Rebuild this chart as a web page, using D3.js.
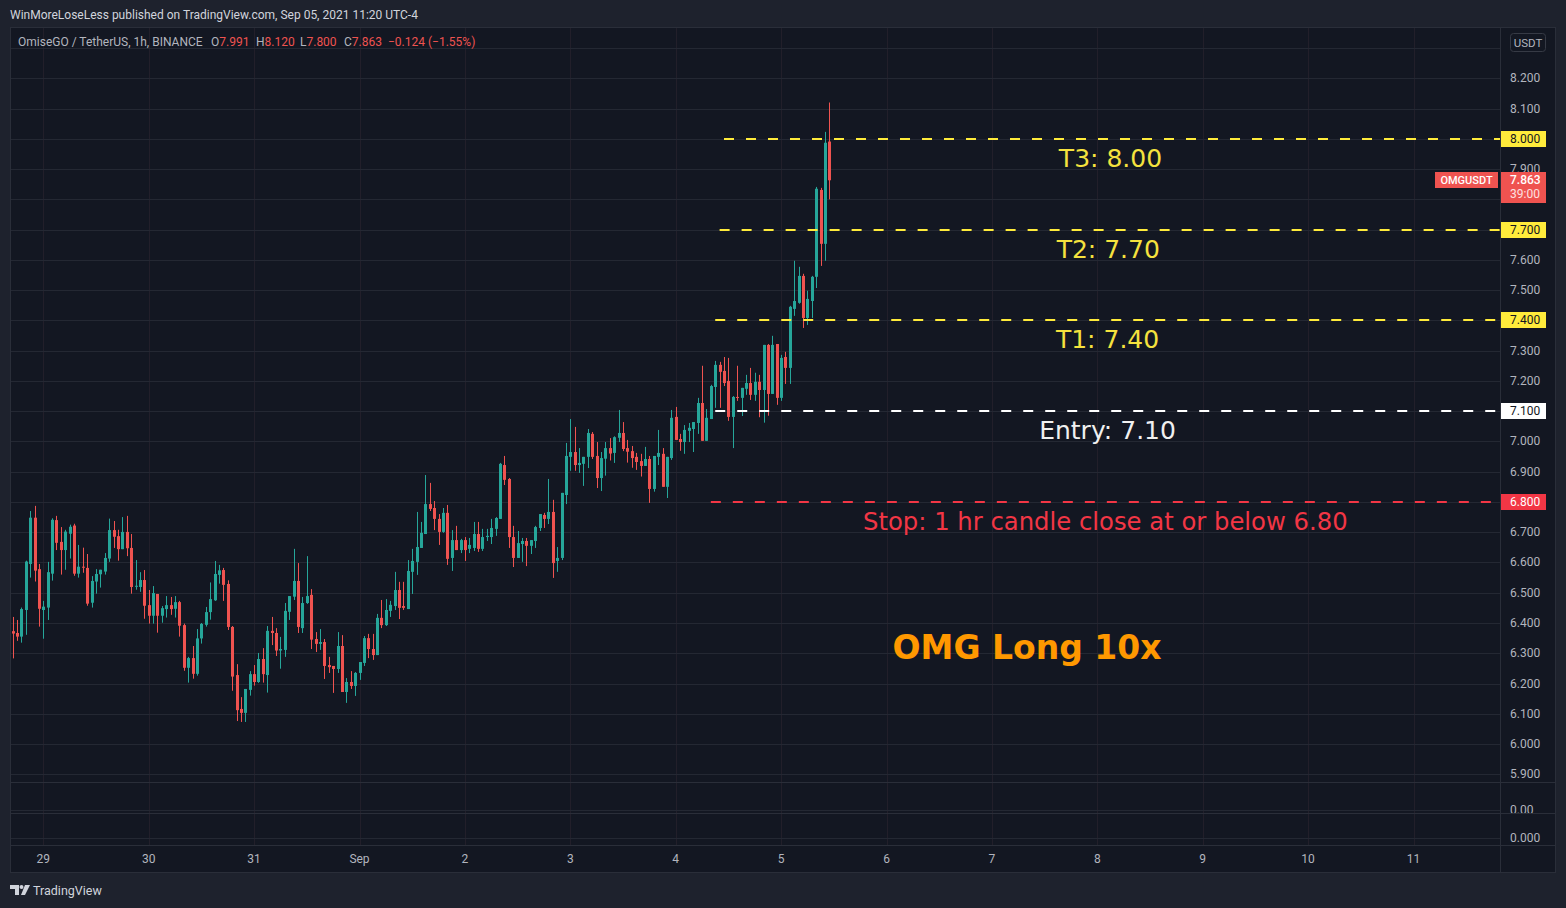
<!DOCTYPE html>
<html lang="en">
<head>
<meta charset="UTF-8">
<title>OMGUSDT 1h - OMG Long 10x</title>
<script src="https://d3js.org/d3.v7.min.js"></script>
<style>
    body {
        margin: 0;
        background: #1e222d;
    }
    text {
        font-family: Roboto, "Liberation Sans", sans-serif;
    }
    .big {
        font-family: "DejaVu Sans", sans-serif;
    }
</style>
</head>
<body>
<div id="chart"></div>
<script>
    // hourly candles, first one at 2021-08-28 17:00 UTC
    var firstCandle = Date.UTC(2021, 7, 28, 17);

    var candleOpen = [
        6.373, 6.367, 6.355, 6.443, 6.595, 6.748, 6.578, 6.443, 6.451, 6.563,
        6.740, 6.668, 6.641, 6.695, 6.722, 6.563, 6.586, 6.582, 6.467, 6.537,
        6.561, 6.570, 6.613, 6.707, 6.687, 6.644, 6.701, 6.648, 6.520, 6.519,
        6.542, 6.459, 6.424, 6.496, 6.424, 6.446, 6.459, 6.447, 6.469, 6.393,
        6.252, 6.284, 6.232, 6.349, 6.394, 6.436, 6.475, 6.559, 6.575, 6.529,
        6.387, 6.228, 6.116, 6.103, 6.179, 6.231, 6.205, 6.281, 6.228, 6.374,
        6.367, 6.309, 6.311, 6.437, 6.487, 6.539, 6.383, 6.466, 6.493, 6.347,
        6.331, 6.337, 6.261, 6.258, 6.248, 6.324, 6.172, 6.205, 6.192, 6.235,
        6.268, 6.350, 6.314, 6.294, 6.417, 6.393, 6.440, 6.456, 6.509, 6.456,
        6.446, 6.569, 6.602, 6.648, 6.694, 6.793, 6.780, 6.744, 6.701, 6.764,
        6.615, 6.674, 6.641, 6.674, 6.645, 6.648, 6.694, 6.645, 6.684, 6.684,
        6.711, 6.744, 6.922, 6.876, 6.684, 6.615, 6.661, 6.671, 6.655, 6.671,
        6.714, 6.757, 6.744, 6.767, 6.605, 6.615, 6.823, 6.949, 6.965, 6.922,
        6.926, 6.949, 7.025, 6.952, 6.879, 6.943, 6.978, 6.962, 7.012, 7.028,
        6.978, 6.968, 6.949, 6.935, 6.919, 6.942, 6.843, 6.949, 6.959, 6.850,
        6.945, 7.081, 7.008, 6.998, 7.035, 7.041, 7.061, 7.127, 7.002, 7.074,
        7.180, 7.253, 7.233, 7.200, 7.081, 7.147, 7.144, 7.174, 7.193, 7.154,
        7.197, 7.170, 7.319, 7.157, 7.322, 7.144, 7.279, 7.243, 7.438, 7.458,
        7.547, 7.408, 7.464, 7.544, 7.831, 7.653, 7.991
    ];
    var candleHigh = [
        6.420, 6.410, 6.451, 6.606, 6.770, 6.787, 6.595, 6.473, 6.602, 6.746,
        6.754, 6.717, 6.708, 6.725, 6.728, 6.658, 6.649, 6.628, 6.555, 6.578,
        6.576, 6.631, 6.745, 6.737, 6.708, 6.750, 6.754, 6.694, 6.608, 6.568,
        6.575, 6.509, 6.522, 6.496, 6.456, 6.489, 6.486, 6.489, 6.473, 6.398,
        6.288, 6.324, 6.380, 6.400, 6.453, 6.534, 6.605, 6.592, 6.582, 6.541,
        6.390, 6.264, 6.155, 6.182, 6.241, 6.261, 6.301, 6.317, 6.390, 6.420,
        6.383, 6.354, 6.466, 6.489, 6.645, 6.598, 6.486, 6.621, 6.512, 6.370,
        6.380, 6.347, 6.288, 6.258, 6.370, 6.360, 6.218, 6.241, 6.238, 6.271,
        6.357, 6.364, 6.364, 6.430, 6.476, 6.479, 6.473, 6.569, 6.536, 6.536,
        6.608, 6.645, 6.767, 6.734, 6.889, 6.863, 6.803, 6.760, 6.780, 6.790,
        6.707, 6.721, 6.678, 6.684, 6.681, 6.734, 6.734, 6.711, 6.711, 6.744,
        6.750, 6.929, 6.952, 6.879, 6.721, 6.704, 6.681, 6.681, 6.674, 6.721,
        6.760, 6.764, 6.876, 6.807, 6.651, 6.830, 6.995, 7.074, 7.048, 6.978,
        6.949, 7.041, 7.031, 6.998, 6.965, 6.998, 7.011, 7.017, 7.104, 7.064,
        7.005, 6.985, 6.962, 6.959, 6.982, 6.952, 6.952, 7.038, 6.978, 6.949,
        7.104, 7.114, 7.025, 7.054, 7.061, 7.064, 7.144, 7.250, 7.107, 7.187,
        7.266, 7.263, 7.279, 7.276, 7.150, 7.250, 7.177, 7.220, 7.243, 7.227,
        7.220, 7.319, 7.322, 7.349, 7.322, 7.286, 7.296, 7.448, 7.597, 7.577,
        7.554, 7.498, 7.547, 7.841, 7.838, 8.023, 8.120
    ];
    var candleLow = [
        6.283, 6.341, 6.335, 6.361, 6.550, 6.537, 6.388, 6.348, 6.410, 6.540,
        6.641, 6.560, 6.576, 6.613, 6.556, 6.550, 6.566, 6.457, 6.451, 6.497,
        6.517, 6.560, 6.602, 6.648, 6.606, 6.644, 6.621, 6.497, 6.510, 6.503,
        6.414, 6.398, 6.398, 6.368, 6.401, 6.418, 6.427, 6.418, 6.355, 6.242,
        6.203, 6.216, 6.226, 6.332, 6.388, 6.411, 6.473, 6.530, 6.473, 6.377,
        6.176, 6.076, 6.073, 6.073, 6.160, 6.193, 6.202, 6.203, 6.170, 6.327,
        6.291, 6.249, 6.288, 6.410, 6.476, 6.367, 6.367, 6.463, 6.314, 6.304,
        6.311, 6.215, 6.235, 6.169, 6.235, 6.172, 6.136, 6.182, 6.159, 6.212,
        6.258, 6.284, 6.278, 6.294, 6.383, 6.390, 6.420, 6.443, 6.413, 6.443,
        6.446, 6.496, 6.559, 6.648, 6.694, 6.770, 6.707, 6.658, 6.698, 6.592,
        6.572, 6.641, 6.631, 6.605, 6.631, 6.638, 6.635, 6.638, 6.671, 6.661,
        6.688, 6.744, 6.856, 6.648, 6.585, 6.615, 6.602, 6.588, 6.628, 6.648,
        6.704, 6.714, 6.727, 6.549, 6.569, 6.608, 6.793, 6.903, 6.903, 6.896,
        6.853, 6.912, 6.942, 6.846, 6.836, 6.887, 6.937, 6.929, 6.998, 6.968,
        6.930, 6.913, 6.906, 6.884, 6.919, 6.797, 6.834, 6.922, 6.850, 6.813,
        6.939, 7.005, 6.969, 6.959, 6.998, 6.965, 7.025, 7.002, 7.002, 7.074,
        7.111, 7.111, 7.183, 7.068, 6.978, 7.134, 7.084, 7.154, 7.137, 7.134,
        7.080, 7.062, 7.085, 7.157, 7.121, 7.134, 7.190, 7.190, 7.415, 7.455,
        7.375, 7.385, 7.408, 7.507, 7.580, 7.597, 7.800
    ];
    var candleClose = [
        6.365, 6.355, 6.446, 6.603, 6.748, 6.573, 6.447, 6.454, 6.568, 6.741,
        6.665, 6.641, 6.702, 6.718, 6.563, 6.586, 6.583, 6.464, 6.539, 6.562,
        6.576, 6.615, 6.707, 6.685, 6.644, 6.701, 6.647, 6.519, 6.523, 6.542,
        6.457, 6.424, 6.499, 6.424, 6.449, 6.459, 6.446, 6.469, 6.391, 6.252,
        6.284, 6.232, 6.349, 6.397, 6.436, 6.479, 6.562, 6.574, 6.526, 6.387,
        6.223, 6.112, 6.103, 6.182, 6.231, 6.205, 6.281, 6.231, 6.374, 6.367,
        6.309, 6.314, 6.440, 6.489, 6.539, 6.387, 6.466, 6.489, 6.345, 6.331,
        6.337, 6.258, 6.254, 6.248, 6.324, 6.172, 6.205, 6.192, 6.235, 6.271,
        6.350, 6.314, 6.294, 6.417, 6.393, 6.443, 6.460, 6.509, 6.450, 6.450,
        6.572, 6.605, 6.651, 6.698, 6.793, 6.777, 6.744, 6.701, 6.764, 6.612,
        6.674, 6.641, 6.674, 6.641, 6.658, 6.694, 6.645, 6.684, 6.688, 6.714,
        6.747, 6.926, 6.873, 6.684, 6.615, 6.664, 6.671, 6.655, 6.674, 6.717,
        6.760, 6.744, 6.767, 6.598, 6.615, 6.830, 6.952, 6.965, 6.922, 6.929,
        6.949, 7.028, 6.949, 6.879, 6.945, 6.978, 6.960, 7.014, 7.028, 6.975,
        6.966, 6.945, 6.932, 6.919, 6.942, 6.843, 6.952, 6.962, 6.850, 6.949,
        7.078, 7.005, 6.998, 7.038, 7.045, 7.064, 7.127, 7.002, 7.078, 7.183,
        7.253, 7.230, 7.193, 7.081, 7.147, 7.145, 7.177, 7.193, 7.154, 7.197,
        7.170, 7.319, 7.157, 7.319, 7.144, 7.276, 7.243, 7.445, 7.464, 7.547,
        7.408, 7.471, 7.544, 7.835, 7.653, 7.987, 7.863
    ];

    // x axis: one tick per day
    var dayTicks = ["2021-08-29", "2021-08-30", "2021-08-31", "2021-09-01", "2021-09-02",
        "2021-09-03", "2021-09-04", "2021-09-05", "2021-09-06", "2021-09-07",
        "2021-09-08", "2021-09-09", "2021-09-10", "2021-09-11"];
    var dayLabels = ["29", "30", "31", "Sep", "2", "3", "4", "5", "6", "7", "8", "9", "10", "11"];

    // right price scale (7.800 sits under the last price tag, so it is not listed)
    var priceGrid = [5.9, 6.0, 6.1, 6.2, 6.3, 6.4, 6.5, 6.6, 6.7, 6.8, 6.9, 7.0, 7.1,
        7.2, 7.3, 7.4, 7.5, 7.6, 7.7, 7.8, 7.9, 8.0, 8.1, 8.2, 8.3];
    var priceLabels = [5.9, 6.0, 6.1, 6.2, 6.3, 6.4, 6.5, 6.6, 6.7, 6.8, 6.9, 7.0, 7.1,
        7.2, 7.3, 7.4, 7.5, 7.6, 7.7, 7.9, 8.0, 8.1, 8.2];

    // trade levels drawn on the chart
    var levelNames = ["T3", "T2", "T1", "Entry", "Stop"];
    var levelPrices = [8.00, 7.70, 7.40, 7.10, 6.80];
    var levelStart = ["2021-09-04T11:00Z", "2021-09-04T10:00Z", "2021-09-04T09:00Z",
        "2021-09-04T09:00Z", "2021-09-04T08:00Z"];
    var levelTexts = ["T3: 8.00", "T2: 7.70", "T1: 7.40", "Entry: 7.10",
        "Stop: 1 hr candle close at or below 6.80"];
    var noteAnchor = ["2021-09-08T03:00Z", "2021-09-08T02:30Z", "2021-09-08T02:20Z",
        "2021-09-08T02:20Z", "2021-09-08T01:50Z"];
    var titleText = "OMG Long 10x";
    var titleAnchor = "2021-09-07T08:00Z";
    var titlePrice = 6.28;

    var lastPrice = 7.863;
    var countdown = "39:00";

    var levelColor = {T3: "#ffeb3b", T2: "#ffeb3b", T1: "#ffeb3b", Entry: "#ffffff", Stop: "#f23645"};
    var levelTextColor = {T3: "#f5e23e", T2: "#f5e23e", T1: "#f5e23e", Entry: "#f0f0f0", Stop: "#f23645"};
    var levelFont = {T3: 25, T2: 25, T1: 25, Entry: 25, Stop: 24.3};
    var boxTextColor = {T3: "#131722", T2: "#131722", T1: "#131722", Entry: "#131722", Stop: "#ffffff"};

    var up = "#26a69a", down = "#ef5350";
    var bg = "#131722", gridH = "#242833", gridV = "#221f2a", border = "#2a2e39";
    var axisText = "#b2b5be";

    var width = 1566, height = 908;
    var pane = {left: 10, right: 1500, top: 27, bottom: 782};
    var frameRight = 1555;

    var svg = d3.select("#chart")
        .append("svg")
            .attr("width", width)
            .attr("height", height);

    var xScale = d3.scaleUtc()
        .domain([new Date("2021-08-29T00:00Z"), new Date("2021-09-11T00:00Z")])
        .range([43.3, 1413.5]);
    var yScale = d3.scaleLinear()
        .domain([5.9, 8.2])
        .range([774.3, 78.3]);

    var candles = candleOpen.map(function (o, i) {
        return {
            t: new Date(firstCandle + i * 3600000),
            o: o, h: candleHigh[i], l: candleLow[i], c: candleClose[i]
        };
    });

    var defs = svg.append("defs");
    defs.append("clipPath").attr("id", "pane-clip")
        .append("rect")
            .attr("x", pane.left).attr("y", pane.top)
            .attr("width", pane.right - pane.left).attr("height", pane.bottom - pane.top);
    defs.append("clipPath").attr("id", "vol-clip")
        .append("rect")
            .attr("x", pane.right).attr("y", 782)
            .attr("width", frameRight - pane.right).attr("height", 31);

    // chart background
    svg.append("rect")
        .attr("x", pane.left).attr("y", pane.top)
        .attr("width", frameRight - pane.left).attr("height", 872 - pane.top)
        .attr("fill", bg);

    // header line
    svg.append("text")
        .attr("x", 10).attr("y", 19)
        .attr("font-size", 12)
        .attr("fill", "#d1d4dc")
        .text("WinMoreLoseLess published on TradingView.com, Sep 05, 2021 11:20 UTC-4");

    // grid
    var grid = svg.append("g");
    grid.selectAll("line.v")
        .data(dayTicks)
        .enter().append("line")
            .attr("class", "v")
            .attr("x1", function (d) { return Math.round(xScale(new Date(d + "T00:00Z"))) + 0.5; })
            .attr("x2", function (d) { return Math.round(xScale(new Date(d + "T00:00Z"))) + 0.5; })
            .attr("y1", pane.top).attr("y2", 845)
            .attr("stroke", gridV);
    grid.selectAll("line.h")
        .data(priceGrid)
        .enter().append("line")
            .attr("class", "h")
            .attr("x1", pane.left).attr("x2", pane.right)
            .attr("y1", function (d) { return Math.round(yScale(d)) + 0.5; })
            .attr("y2", function (d) { return Math.round(yScale(d)) + 0.5; })
            .attr("stroke", gridH);
    // empty lower panes
    grid.append("line").attr("x1", pane.left).attr("x2", pane.right)
        .attr("y1", 810.5).attr("y2", 810.5).attr("stroke", gridH);
    grid.append("line").attr("x1", pane.left).attr("x2", pane.right)
        .attr("y1", 838.5).attr("y2", 838.5).attr("stroke", gridH);

    // legend: label parts placed, values follow them
    var n = candleOpen.length - 1;
    var legendParts = [
        [18, "OmiseGO / TetherUS, 1h, BINANCE", null],
        [211, "O", candleOpen[n].toFixed(3)],
        [256, "H", candleHigh[n].toFixed(3)],
        [300, "L", candleLow[n].toFixed(3)],
        [344, "C", candleClose[n].toFixed(3)],
        [388, null, "\u22120.124 (\u22121.55%)"]
    ];
    var legend = svg.append("text")
        .attr("y", 46)
        .attr("font-size", 12);
    legendParts.forEach(function (p) {
        var first = true;
        if (p[1]) {
            legend.append("tspan").attr("x", p[0]).attr("fill", axisText).text(p[1]);
            first = false;
        }
        if (p[2]) {
            var v = legend.append("tspan").attr("fill", down).text(p[2]);
            if (first) v.attr("x", p[0]);
        }
    });

    // candles
    var plot = svg.append("g").attr("clip-path", "url(#pane-clip)");
    var candle = plot.selectAll("g.candle")
        .data(candles)
        .enter().append("g")
            .attr("class", "candle");
    candle.append("line")
        .attr("x1", function (d) { return Math.round(xScale(d.t)) + 0.5; })
        .attr("x2", function (d) { return Math.round(xScale(d.t)) + 0.5; })
        .attr("y1", function (d) { return yScale(d.h); })
        .attr("y2", function (d) { return yScale(d.l); })
        .attr("stroke", function (d) { return d.c >= d.o ? up : down; });
    candle.append("rect")
        .attr("x", function (d) { return Math.round(xScale(d.t)) - 1; })
        .attr("width", 3)
        .attr("y", function (d) { return yScale(Math.max(d.o, d.c)); })
        .attr("height", function (d) { return Math.max(1, Math.abs(yScale(d.o) - yScale(d.c))); })
        .attr("fill", function (d) { return d.c >= d.o ? up : down; });

    // level lines
    var levels = levelNames.map(function (name, i) {
        return {
            name: name, price: levelPrices[i], start: new Date(levelStart[i]),
            text: levelTexts[i], anchor: new Date(noteAnchor[i])
        };
    });
    plot.selectAll("line.level")
        .data(levels)
        .enter().append("line")
            .attr("class", "level")
            .attr("x1", function (d) { return xScale(d.start); })
            .attr("x2", pane.right)
            .attr("y1", function (d) { return Math.round(yScale(d.price)); })
            .attr("y2", function (d) { return Math.round(yScale(d.price)); })
            .attr("stroke", function (d) { return levelColor[d.name]; })
            .attr("stroke-width", 2)
            .attr("stroke-dasharray", "10,12");

    plot.selectAll("text.note")
        .data(levels)
        .enter().append("text")
            .attr("class", "note big")
            .attr("x", function (d) { return xScale(d.anchor); })
            .attr("y", function (d) { return yScale(d.price) + 28; })
            .attr("text-anchor", "middle")
            .attr("font-size", function (d) { return levelFont[d.name]; })
            .attr("fill", function (d) { return levelTextColor[d.name]; })
            .text(function (d) { return d.text; });

    plot.append("text")
        .attr("class", "big")
        .attr("x", xScale(new Date(titleAnchor)))
        .attr("y", yScale(titlePrice))
        .attr("text-anchor", "middle")
        .attr("font-size", 33)
        .attr("font-weight", "bold")
        .attr("fill", "#ff9800")
        .text(titleText);

    // price axis
    var axis = svg.append("g");
    axis.selectAll("text.price")
        .data(priceLabels)
        .enter().append("text")
            .attr("class", "price")
            .attr("x", 1510)
            .attr("y", function (d) { return yScale(d) + 4; })
            .attr("font-size", 12)
            .attr("fill", axisText)
            .text(function (d) { return d.toFixed(3); });
    var volAxis = svg.append("g").attr("clip-path", "url(#vol-clip)");
    volAxis.append("text")
        .attr("x", 1510).attr("y", 814)
        .attr("font-size", 12).attr("fill", axisText)
        .text("0.00");
    axis.append("text")
        .attr("x", 1510).attr("y", 842)
        .attr("font-size", 12).attr("fill", axisText)
        .text("0.000");

    // USDT button
    axis.append("rect")
        .attr("x", 1510.5).attr("y", 33.5)
        .attr("width", 35).attr("height", 18)
        .attr("rx", 3)
        .attr("fill", bg)
        .attr("stroke", "#363a45");
    axis.append("text")
        .attr("x", 1528).attr("y", 47)
        .attr("text-anchor", "middle")
        .attr("font-size", 11.5)
        .attr("fill", axisText)
        .text("USDT");

    // level price boxes
    var box = axis.selectAll("g.box")
        .data(levels)
        .enter().append("g")
            .attr("class", "box");
    box.append("rect")
        .attr("x", 1500)
        .attr("y", function (d) { return Math.round(yScale(d.price)) - 8; })
        .attr("width", 46).attr("height", 16)
        .attr("fill", function (d) { return levelColor[d.name]; });
    box.append("text")
        .attr("x", 1510)
        .attr("y", function (d) { return Math.round(yScale(d.price)) + 4; })
        .attr("font-size", 12)
        .attr("fill", function (d) { return boxTextColor[d.name]; })
        .text(function (d) { return d.price.toFixed(3); });

    // last price
    var ly = Math.round(yScale(lastPrice));
    axis.append("rect")
        .attr("x", 1435).attr("y", ly - 8)
        .attr("width", 63).attr("height", 16)
        .attr("fill", down);
    axis.append("text")
        .attr("x", 1466.5).attr("y", ly + 4)
        .attr("text-anchor", "middle")
        .attr("font-size", 11)
        .attr("font-weight", 500)
        .attr("fill", "#ffffff")
        .text("OMGUSDT");
    axis.append("rect")
        .attr("x", 1500).attr("y", ly - 8)
        .attr("width", 46).attr("height", 31)
        .attr("fill", down);
    axis.append("text")
        .attr("x", 1510).attr("y", ly + 4)
        .attr("font-size", 12)
        .attr("font-weight", 500)
        .attr("fill", "#ffffff")
        .text(lastPrice.toFixed(3));
    axis.append("text")
        .attr("x", 1510).attr("y", ly + 18)
        .attr("font-size", 12)
        .attr("fill", "#fde0e0")
        .text(countdown);

    // time axis labels
    svg.append("g").selectAll("text")
        .data(dayTicks)
        .enter().append("text")
            .attr("x", function (d) { return xScale(new Date(d + "T00:00Z")); })
            .attr("y", 863)
            .attr("text-anchor", "middle")
            .attr("font-size", 12)
            .attr("fill", axisText)
            .text(function (d, i) { return dayLabels[i]; });

    // frame and separators
    var frame = svg.append("g")
        .attr("fill", "none")
        .attr("stroke", border);
    frame.append("rect")
        .attr("x", pane.left + 0.5).attr("y", pane.top + 0.5)
        .attr("width", frameRight - pane.left).attr("height", 872 - pane.top);
    frame.append("line").attr("x1", pane.right + 0.5).attr("x2", pane.right + 0.5)
        .attr("y1", pane.top).attr("y2", 872);
    [782, 813, 845].forEach(function (y) {
        frame.append("line")
            .attr("x1", pane.left).attr("x2", frameRight)
            .attr("y1", y + 0.5).attr("y2", y + 0.5);
    });

    // TradingView mark
    var logo = svg.append("g").attr("fill", "#d1d4dc");
    logo.append("path").attr("d", "M10,885 h9 v10 h-4 v-6 h-5 z");
    logo.append("circle").attr("cx", 21.5).attr("cy", 887).attr("r", 2);
    logo.append("path").attr("d", "M25,885 h5 l-5,10 h-4 z");
    logo.append("text")
        .attr("x", 33).attr("y", 894.5)
        .attr("font-size", 12.5)
        .attr("fill", "#d1d4dc")
        .text("TradingView");
</script>
</body>
</html>
